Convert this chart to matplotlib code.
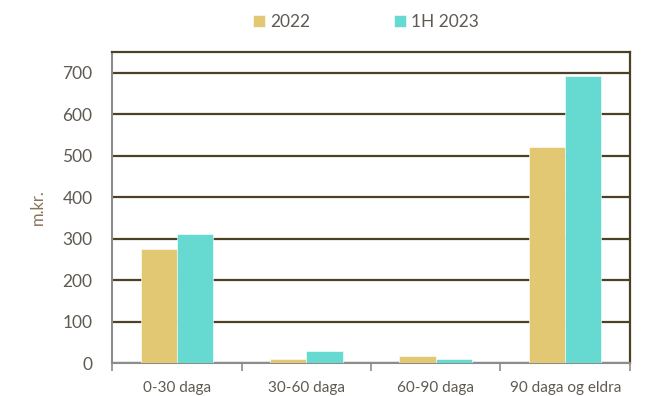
import numpy as np
import matplotlib.pyplot as plt

categories = ['0-30 daga', '30-60 daga', '60-90 daga', '90 daga og eldra']
vals_2022 = [275, 9, 17, 521]
vals_1h2023 = [312, 30, 9, 693]
yticks = [0, 100, 200, 300, 400, 500, 600, 700]

plt.rcParams['font.family'] = ['Lato', 'DejaVu Sans']

fig = plt.figure(figsize=(6.49, 3.96), dpi=100)
ax = fig.add_axes([0.1726, 0.0833, 0.7981, 0.7854])

x = np.arange(len(categories))
w = 0.28
ax.bar(x - w/2, vals_2022, w, color='#E2C873', edgecolor='white', linewidth=0.4, label='2022', zorder=3)
ax.bar(x + w/2, vals_1h2023, w, color='#66D9D1', edgecolor='white', linewidth=0.4, label='1H 2023', zorder=3)

ax.set_xlim(-0.5, len(categories) - 0.5)
ax.set_ylim(0, 750)
ax.set_yticks(yticks)
ax.yaxis.grid(True, color='#4d4125', linewidth=1.6, zorder=1)
ax.set_axisbelow(True)

ax.set_xticks(x)
ax.set_xticklabels(categories)
ax.set_xticks(np.arange(-0.5, len(categories)), minor=True)
ax.tick_params(axis='x', which='major', length=0, pad=13, labelsize=11, labelcolor='#5f5a52')
ax.tick_params(axis='x', which='minor', length=6, width=1.2, color='#8c8c8c')
ax.tick_params(axis='y', length=0, pad=14, labelsize=12.5, labelcolor='#5f5a52')

for s in ['left', 'bottom']:
    ax.spines[s].set_color('#8c8c8c')
    ax.spines[s].set_linewidth(1.5)
for s in ['right', 'top']:
    ax.spines[s].set_color('#4d4125')
    ax.spines[s].set_linewidth(1.6)

ax.set_ylabel('m.kr.', color='#8b7355', fontsize=12, labelpad=12)

ax.legend(loc='lower center', bbox_to_anchor=(0.49, 1.02), ncol=2, frameon=False,
          fontsize=12.5, labelcolor='#5f5a52', handlelength=0.7, handleheight=0.7,
          handletextpad=0.3, columnspacing=4.8)

fig.savefig('out.png', dpi=100)
